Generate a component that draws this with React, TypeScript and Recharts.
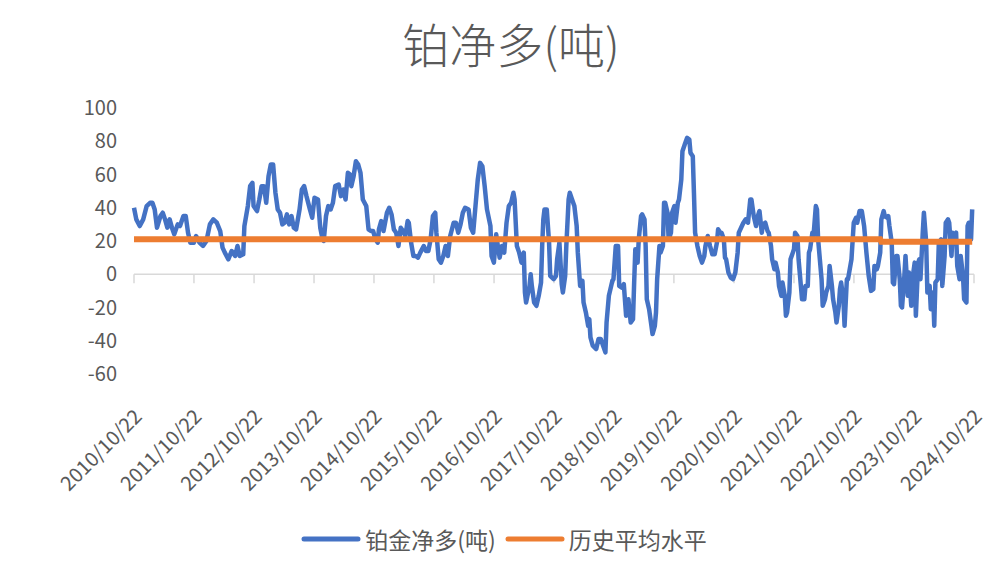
import { Line, LineChart, ReferenceLine, XAxis, YAxis } from "recharts";

const START = Date.UTC(2010, 9, 22);
const DAY = 86400000;

const title = "铂净多(吨)";
const seriesNames = ["铂金净多(吨)", "历史平均水平"];
const seriesColors = ["#4472C4", "#ED7D31"];

// weeks since 2010/10/22
const weeks = [
  0, 2, 5, 8, 11, 14, 16, 18, 20, 23, 25, 27, 29, 31, 33, 35, 38, 40, 43, 45, 47, 49, 52, 54, 57, 60, 63, 66, 69, 72, 75, 77, 79, 82, 85, 88, 90, 92, 95, 96, 99, 101, 103,
  104, 107, 109, 111, 113, 115, 117, 119, 121, 123, 125, 127, 129, 131, 133, 135, 137, 139, 141, 144, 146, 148, 150, 153, 155, 157, 160, 162, 164, 165, 167, 169, 171, 173, 175, 178, 180, 182, 184, 186, 188, 189, 191, 193, 195, 197, 199, 202, 204, 206, 208, 210, 212,
  213, 215, 217, 220, 222, 224, 226, 228, 230, 232, 234, 236, 238, 239, 241, 243, 245, 247, 249, 252, 254, 256, 258, 260, 262, 263, 265, 267, 269, 271, 273, 275, 278, 280, 282, 284, 286, 288, 291, 293, 295, 297, 299, 301, 303, 305, 307, 310, 311, 313, 315,
  316, 318, 320, 322, 324, 326, 328, 330, 331, 333, 335, 337, 339, 340, 341, 344, 345, 346, 348, 350, 352, 354, 355, 356, 357, 359, 361, 362, 365, 367, 368, 370, 372, 373, 375, 376, 378, 379, 381, 383, 385, 386, 388, 390, 391, 393, 395, 396, 397, 399, 402, 404, 406, 408, 410, 411, 413, 415, 416, 417, 419, 421,
  422, 424, 426, 428, 430, 432, 434, 435, 436, 438, 439, 441, 442, 444, 445, 446, 448, 450, 451, 453, 454, 455, 457, 458, 460, 461, 462, 464, 465, 467, 468, 470, 471, 473, 474, 476, 477, 479, 481, 483, 484, 486, 487, 488, 490, 492, 494, 496, 497, 499, 501, 503, 505, 507, 508, 510, 511, 513, 514, 515, 517, 519, 521, 523, 525,
  526, 528, 530, 532, 534, 536, 537, 539, 541, 543, 544, 546, 547, 549, 551, 552, 554, 555, 557, 558, 560, 561, 563, 564, 566, 567, 568, 570, 571, 573, 574, 575, 577, 578, 580, 581, 583, 584, 586, 587, 588, 590, 591, 593, 594, 595, 597, 598, 599, 601, 602, 604, 605, 607, 608, 610, 611, 613, 614, 615, 617, 618, 620, 621,
  624, 626, 628, 629, 631, 633, 635, 637, 639, 641, 643, 644, 646, 647, 649, 650, 652, 653, 655, 656, 657, 659, 660, 661, 663, 664, 666, 667, 668, 670, 671, 673, 674, 676, 677, 679, 680, 682, 683, 684, 686, 687, 689, 690, 692, 693, 695, 696, 697, 699, 700, 702, 703, 705, 706, 708, 709, 711, 712, 713, 715, 716, 718, 719, 721, 722, 724, 725, 726, 728, 729,
];

const netLong = [
  40, 33, 29, 33, 41, 43, 43, 39, 28, 35, 37, 33, 28, 33, 28, 24, 30, 29, 35, 35, 25, 19, 19, 23, 19, 17, 20, 30, 33, 31, 26, 16, 13, 9, 14, 11, 17, 11, 12, 29, 41, 53, 55,
  41, 38, 45, 53, 53, 43, 59, 66, 66, 49, 39, 37, 30, 31, 36, 30, 35, 28, 27, 39, 51, 53, 47, 39, 34, 46, 45, 28, 21, 20, 35, 41, 39, 43, 53, 54, 47, 51, 45, 61, 60, 53, 59, 68, 66, 61, 45, 41, 27, 26, 26, 21, 19,
  27, 32, 26, 37, 40, 36, 27, 25, 17, 28, 26, 23, 32, 31, 19, 11, 11, 10, 13, 17, 14, 14, 21, 35, 37, 25, 9, 7, 11, 17, 11, 23, 31, 31, 25, 30, 37, 40, 39, 28, 25, 41, 57, 67, 65, 53, 39, 29, 11, 7, 24,
  19, 10, 17, 13, 31, 41, 43, 49, 45, 17, 13, 7, 13, -11, -17, -7, 0, -7, -17, -19, -13, -5, 17, 33, 39, 39, 19, -1, -3, -1, 9, 19, -6, -11, -1, 17, 45, 49, 45, 41, 29, 13, -7, -4, -17, -23, -31, -27, -38, -43, -45, -39, -39, -43, -47, -29, -13, -7, -4, -3, 17, 17,
  -7, -8, -6, -25, -15, -29, -27, -5, 15, 7, 21, 35, 36, 33, 17, -15, -21, -31, -36, -31, -23, -3, 17, 13, 17, 43, 43, 37, 21, 25, 37, 41, 31, 43, 45, 57, 74, 78, 82, 81, 73, 71, 49, 25, 17, 11, 7, 11, 17, 23, 17, 12, 12, 19, 27, 25, 25, 21, 10, 9, 1, -2, -3, 1, 13,
  25, 28, 31, 33, 31, 45, 45, 35, 29, 36, 38, 25, 30, 31, 26, 25, 17, 9, 3, 7, 1, -7, -13, -5, -13, -25, -23, -11, 9, 13, 15, 25, 23, 9, -7, -15, -15, -7, -7, 13, 15, 25, 23, 41, 39, 21, 5, -3, -19, -15, -11, -7, 5, -7, -15, -23, -29, -19, -9, -5, -15, -31, -3, -3,
  9, 31, 34, 31, 38, 38, 29, 13, -1, -10, -9, 5, 3, 5, 13, 33, 38, 35, 34, 35, 29, 19, -5, -6, 11, 11, -3, -19, -20, -1, 11, -13, 1, -19, -3, 7, -25, 7, 9, -3, 25, 37, 19, -11, -7, -21, -11, -31, -5, -3, 19, 21, -7, 11, 31, 33, 31, 11, 25, 23, 25, 5, -3, 11, -1, -15, -17, 29, 31, 21, 39,
];

// historical average level, starting week of each level
const avgFrom = [0, 650];
const avgLevels = [21.1, 19.5];

const tickYears = [2010, 2011, 2012, 2013, 2014, 2015, 2016, 2017, 2018, 2019, 2020, 2021, 2022, 2023, 2024];
const yTicks = [-60, -40, -20, 0, 20, 40, 60, 80, 100];

const tickDays = tickYears.map((y) => (Date.UTC(y, 9, 22) - START) / DAY);

const data = weeks.map((w, i) => {
  let k = 0;
  avgFrom.forEach((f, j) => {
    if (w >= f) k = j;
  });
  return { day: w * 7, net: netLong[i], avg: avgLevels[k] };
});

const FONT = '"Noto Sans CJK SC", "Noto Sans", sans-serif';
const TEXT = "#595959";

function DateTick({ x, y, payload }: any) {
  const d = new Date(START + payload.value * DAY);
  const label = `${d.getUTCFullYear()}/${d.getUTCMonth() + 1}/${d.getUTCDate()}`;
  const ax = x + 9;
  const ay = y + 44;
  return (
    <text
      x={ax}
      y={ay}
      transform={`rotate(-45 ${ax} ${ay})`}
      textAnchor="end"
      fill={TEXT}
      fontSize={20}
      fontFamily={FONT}
    >
      {label}
    </text>
  );
}

export default function App() {
  return (
    <div
      style={{
        position: "absolute",
        left: 0,
        top: 0,
        width: 1004,
        height: 572,
        background: "#fff",
        fontFamily: FONT,
      }}
    >
      <div
        style={{
          position: "absolute",
          top: 16,
          left: 9,
          width: 1004,
          textAlign: "center",
          fontSize: 47,
          fontWeight: 300,
          lineHeight: "54px",
          color: TEXT,
        }}
      >
        {title}
      </div>
      <LineChart
        width={1004}
        height={572}
        data={data}
        margin={{ top: 108, right: 30, bottom: 0, left: 0 }}
      >
        <XAxis
          dataKey="day"
          type="number"
          domain={[0, tickDays[tickDays.length - 1]]}
          ticks={tickDays}
          interval={0}
          axisLine={false}
          tickLine={false}
          tickSize={0}
          tickMargin={0}
          height={198}
          tick={<DateTick />}
        />
        <YAxis
          domain={[-60, 100]}
          ticks={yTicks}
          interval={0}
          width={134}
          axisLine={false}
          tickLine={false}
          tickSize={0}
          tickMargin={17}
          tick={{ fill: TEXT, fontSize: 20, fontFamily: FONT }}
        />
        <ReferenceLine y={0} stroke="#d9d9d9" strokeWidth={1.5} />
        {tickDays.map((d) => (
          <ReferenceLine
            key={d}
            segment={[
              { x: d, y: 0 },
              { x: d, y: -5.4 },
            ]}
            stroke="#d9d9d9"
            strokeWidth={1.5}
          />
        ))}
        <Line
          dataKey="net"
          name={seriesNames[0]}
          stroke={seriesColors[0]}
          strokeWidth={4.5}
          strokeLinejoin="round"
          dot={false}
          type="linear"
          isAnimationActive={false}
        />
        <Line
          dataKey="avg"
          name={seriesNames[1]}
          stroke={seriesColors[1]}
          strokeWidth={6}
          dot={false}
          type="linear"
          isAnimationActive={false}
        />
      </LineChart>
      <div
        style={{
          position: "absolute",
          top: 524,
          left: 2,
          width: 1004,
          display: "flex",
          justifyContent: "center",
          alignItems: "center",
          fontSize: 23,
          color: TEXT,
        }}
      >
        {seriesNames.map((n, i) => (
          <div key={n} style={{ display: "flex", alignItems: "center", marginRight: i === 0 ? 9 : 0 }}>
            <svg width={60} height={10} style={{ marginRight: 4 }}>
              <line x1={3} y1={5} x2={57} y2={5} stroke={seriesColors[i]} strokeWidth={5} strokeLinecap="round" />
            </svg>
            <span style={{ lineHeight: "30px" }}>{n}</span>
          </div>
        ))}
      </div>
    </div>
  );
}
